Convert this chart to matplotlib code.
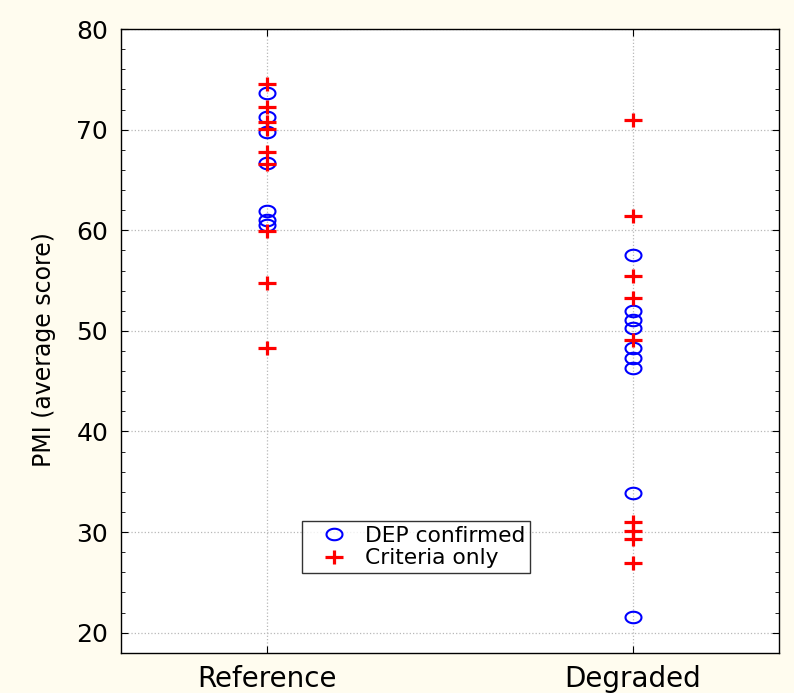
import matplotlib
matplotlib.use("Agg")
import matplotlib.pyplot as plt
from matplotlib.ticker import MultipleLocator
from matplotlib.path import Path
import numpy as np

plt.rcParams['font.family'] = ['DejaVu Sans']

categories = ["Reference", "Degraded"]
ref_dep = [73.6, 71.3, 69.8, 66.7, 61.9, 61.0, 60.5]
ref_crit = [74.5, 72.3, 70.8, 70.1, 67.8, 66.6, 59.9, 54.8, 48.3]
deg_dep = [57.5, 52.0, 51.1, 50.3, 48.3, 47.3, 46.3, 33.9, 21.6]
deg_crit = [71.0, 61.4, 55.5, 53.3, 49.1, 31.0, 30.1, 29.3, 26.9]
yticks = [20, 30, 40, 50, 60, 70, 80]

# horizontally stretched marker shapes, as in the reference
t = np.linspace(0, 2 * np.pi, 60)
ellipse = Path(np.column_stack([np.cos(t), 0.72 * np.sin(t)]), closed=True)
plus = Path([(-1, 0), (1, 0), (0, -0.75), (0, 0.75)],
            [Path.MOVETO, Path.LINETO, Path.MOVETO, Path.LINETO])

fig = plt.figure(figsize=(7.94, 6.93), dpi=100, facecolor='#fffcef')
ax = fig.add_axes([0.152, 0.058, 0.829, 0.900])
ax.set_facecolor('white')

x_dep = [1] * len(ref_dep) + [2] * len(deg_dep)
y_dep = ref_dep + deg_dep
x_crit = [1] * len(ref_crit) + [2] * len(deg_crit)
y_crit = ref_crit + deg_crit

ax.plot(x_dep, y_dep, linestyle='none', marker=ellipse, markersize=11.5,
        markerfacecolor='none', markeredgecolor='#0000ff', markeredgewidth=1.5,
        label='DEP confirmed', zorder=3)
ax.plot(x_crit, y_crit, linestyle='none', marker=plus, markersize=12.5,
        markerfacecolor='none', markeredgecolor='#ff0000', markeredgewidth=2.3,
        label='Criteria only', zorder=4)

ax.set_xlim(0.6, 2.4)
ax.set_ylim(18, 80)
ax.set_xticks([1, 2])
ax.set_xticklabels(categories, fontsize=20)
ax.set_yticks(yticks)
ax.set_yticklabels([str(v) for v in yticks], fontsize=18)
ax.yaxis.set_minor_locator(MultipleLocator(2))
ax.tick_params(axis='both', which='both', direction='in', right=True, top=True)
ax.tick_params(axis='both', which='major', length=5, pad=9)
ax.tick_params(axis='y', which='minor', length=3)
ax.tick_params(axis='x', which='major', pad=9)

ax.grid(True, which='major', linestyle=':', color='#b8b8b8', linewidth=0.9)
ax.set_ylabel('PMI (average score)', fontsize=17)
ax.yaxis.set_label_coords(-0.098, 0.486)

for s in ax.spines.values():
    s.set_linewidth(1.0)

leg = ax.legend(loc='lower left', bbox_to_anchor=(0.276, 0.128), fontsize=15.7,
                frameon=True, fancybox=False, edgecolor='black',
                handletextpad=0.2, borderpad=0.22, labelspacing=0.1,
                handlelength=2.45, borderaxespad=0)
leg.get_frame().set_linewidth(1.0)

fig.savefig('out.png', dpi=100, facecolor=fig.get_facecolor())
